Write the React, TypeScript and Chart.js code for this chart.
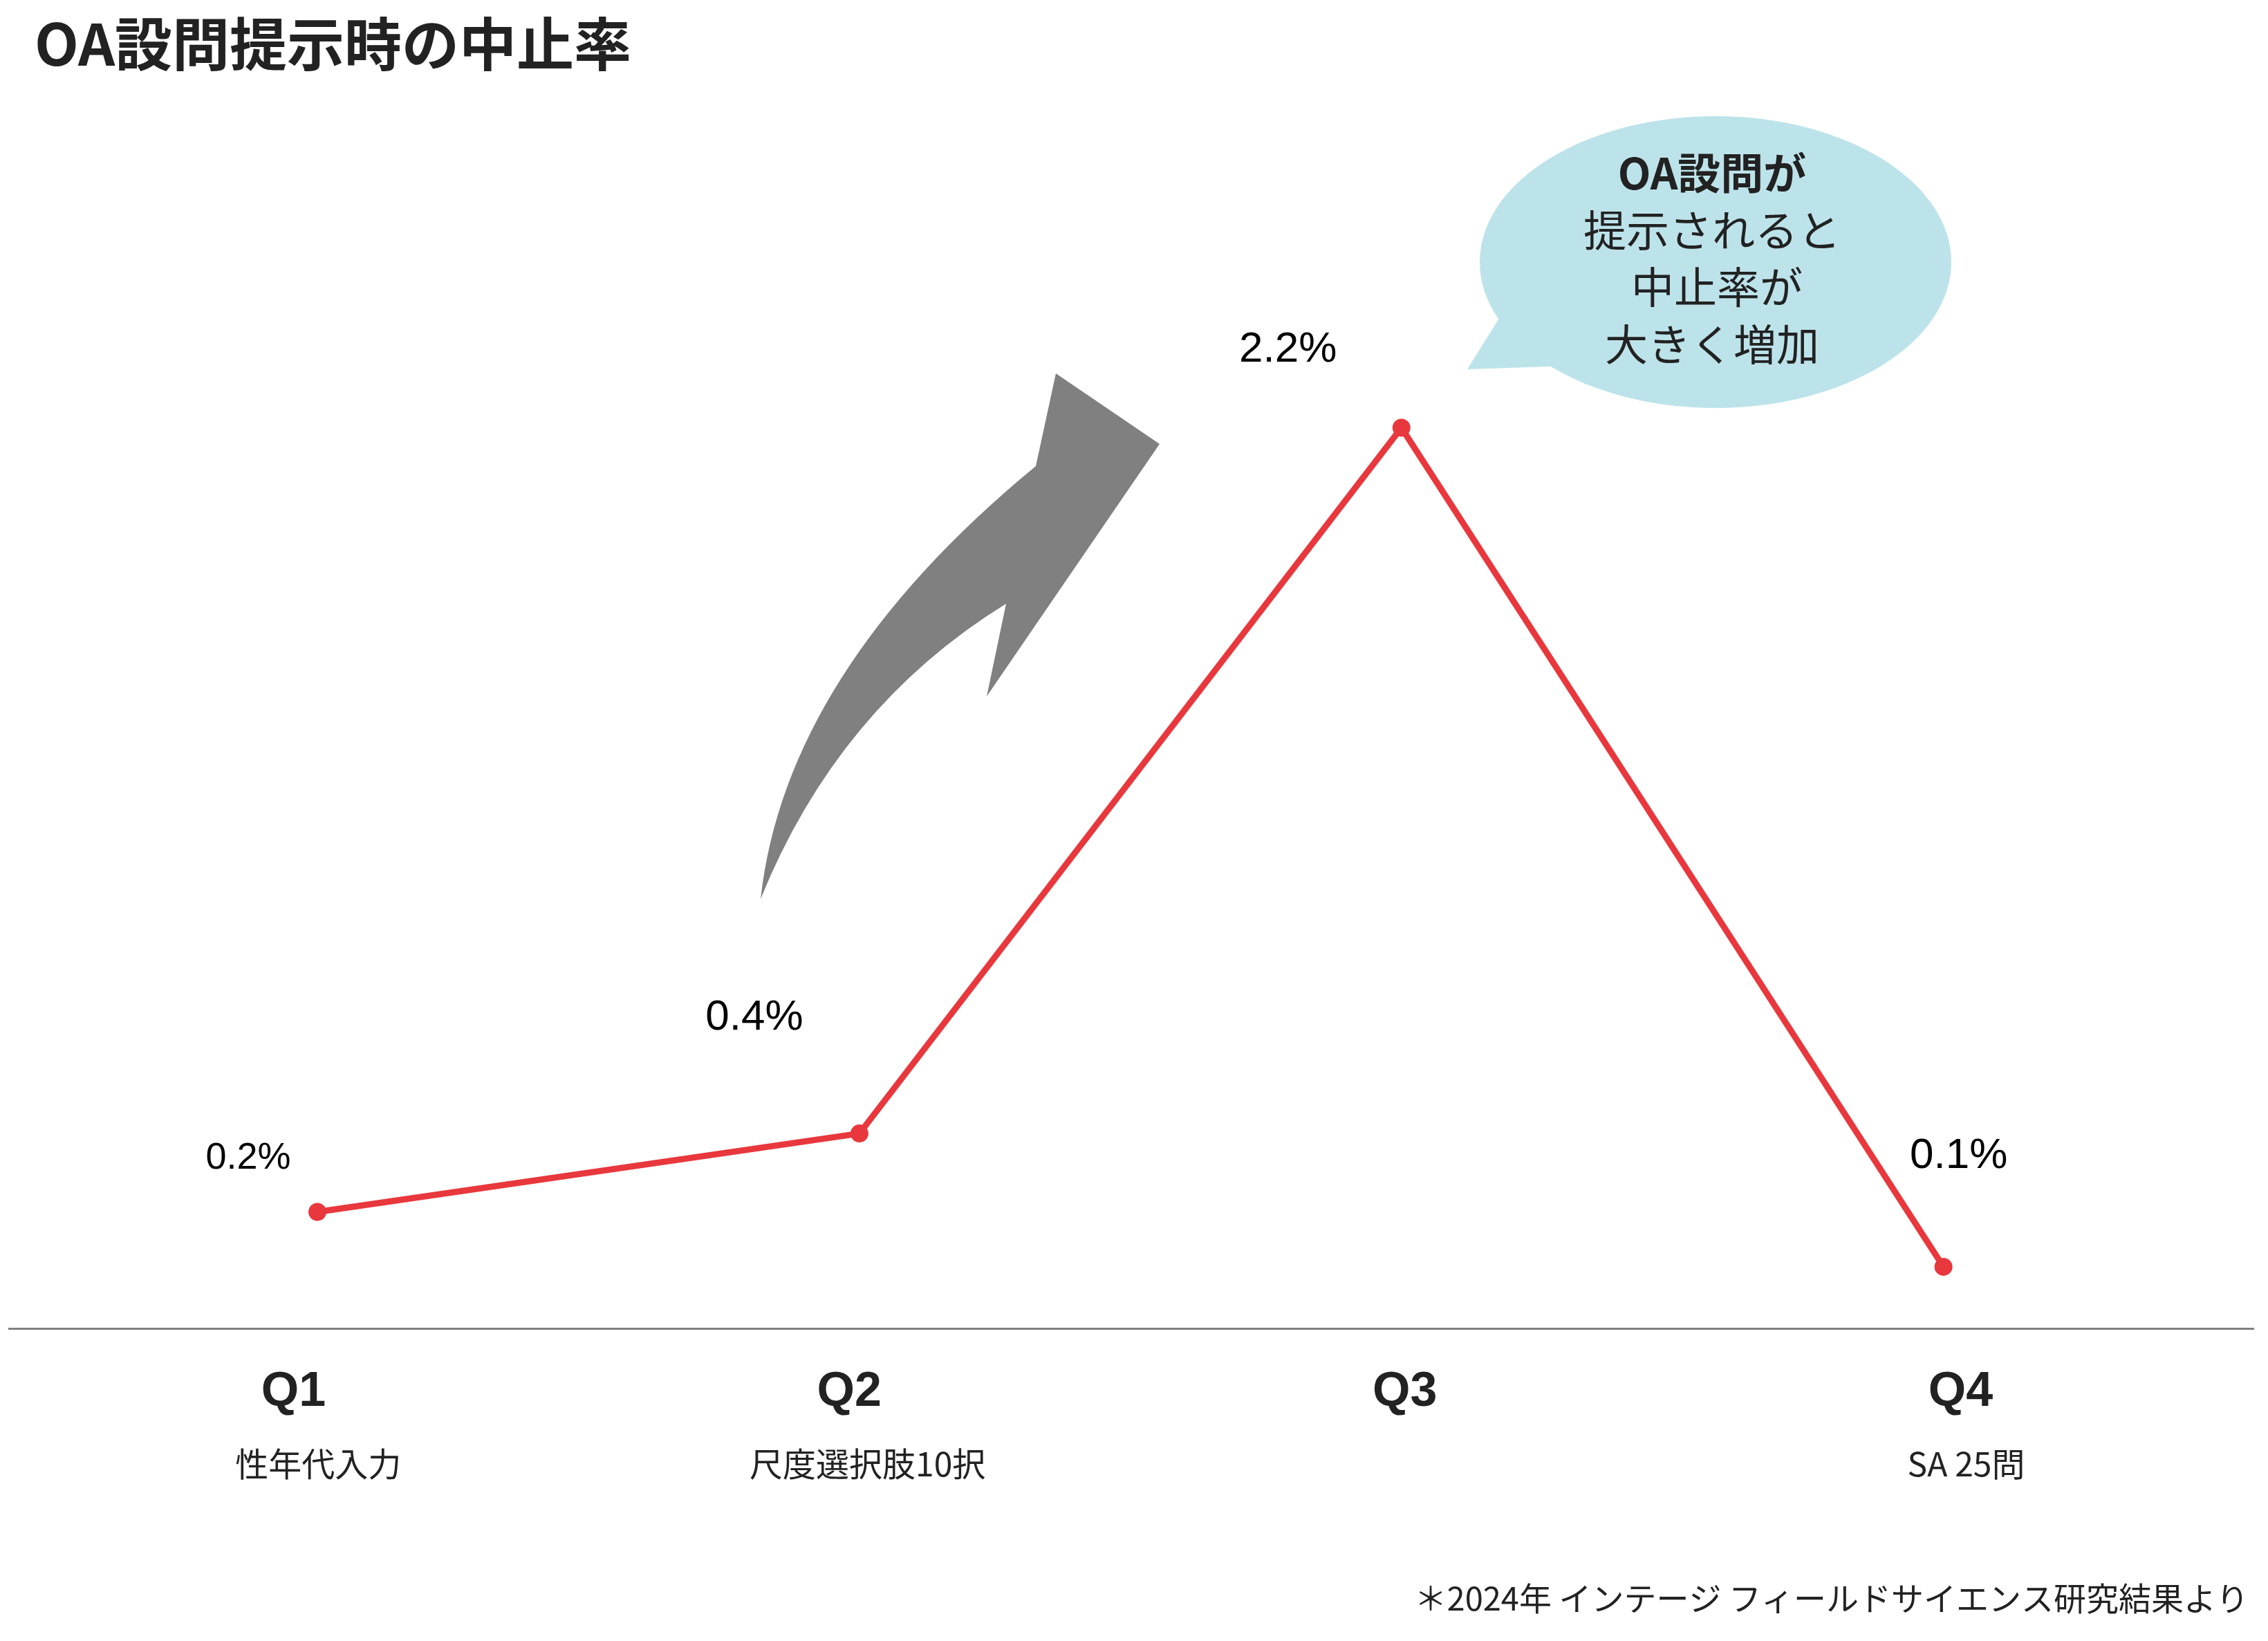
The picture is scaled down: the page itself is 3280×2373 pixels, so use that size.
import React, { useEffect, useRef } from 'react';
import { Chart, registerables } from 'chart.js';

Chart.register(...registerables);

const questions = ['Q1', 'Q2', 'Q3', 'Q4'];
const questionNotes = ['性年代入力', '尺度選択肢10択', '', 'SA 25問'];
const dropoutRates = [0.2, 0.4, 2.2, 0.06];
const calloutLines = ['OA設問が', '提示されると', ' 中止率が', '大きく増加'];
const titleText = 'OA設問提示時の中止率';
const sourceNote = '＊2024年 インテージ フィールドサイエンス研究結果より';

const W = 3280;
const H = 2373;
const JP = '"Noto Sans CJK JP", "Noto Sans", sans-serif';
const LATIN = '"Liberation Sans", Arial, sans-serif';
const INK = '#222222';
const RED = '#e8383d';

// where each value label sits relative to its point, and how big it is
const labelOffsets = [[-100, -63], [-152, -150], [-164, -95], [22, -143]];
const labelSizes = [54, 62, 62, 62];

const decorations = {
    id: 'decorations',
    beforeDatasetsDraw(chart: Chart) {
        const ctx = chart.ctx;
        ctx.save();

        // grey curved arrow
        ctx.fillStyle = '#808080';
        ctx.beginPath();
        ctx.moveTo(1100, 1300);
        ctx.quadraticCurveTo(1136, 972, 1498, 674);
        ctx.lineTo(1527, 540);
        ctx.lineTo(1677, 642);
        ctx.lineTo(1427, 1007);
        ctx.lineTo(1455, 873);
        ctx.quadraticCurveTo(1212, 1023, 1100, 1300);
        ctx.closePath();
        ctx.fill();

        // speech bubble
        ctx.fillStyle = '#bde3ea';
        ctx.beginPath();
        ctx.ellipse(2481, 379, 341, 211, 0, 0, Math.PI * 2);
        ctx.fill();
        ctx.beginPath();
        ctx.moveTo(2167, 462);
        ctx.lineTo(2122, 534);
        ctx.lineTo(2242, 530);
        ctx.lineTo(2300, 440);
        ctx.closePath();
        ctx.fill();

        ctx.restore();
    },
    afterDraw(chart: Chart) {
        const ctx = chart.ctx;
        ctx.save();
        ctx.textBaseline = 'alphabetic';

        // title
        ctx.fillStyle = INK;
        ctx.textAlign = 'left';
        ctx.font = `bold 83px ${JP}`;
        ctx.fillText(titleText, 50, 95);

        // bubble text
        ctx.textAlign = 'center';
        calloutLines.forEach((line, i) => {
            ctx.font = `${i === 0 ? 'bold ' : ''}62px ${JP}`;
            ctx.fillText(line, 2476, 274 + i * 82.5);
        });

        // value labels
        ctx.fillStyle = '#000000';
        const meta = chart.getDatasetMeta(0);
        meta.data.forEach((pt, i) => {
            ctx.font = `${labelSizes[i]}px ${LATIN}`;
            ctx.fillText(`${dropoutRates[i].toFixed(1)}%`, pt.x + labelOffsets[i][0], pt.y + labelOffsets[i][1]);
        });

        // source
        ctx.fillStyle = INK;
        ctx.textAlign = 'right';
        ctx.font = `47px ${JP}`;
        ctx.fillText(sourceNote, 3252, 2329);

        ctx.restore();
    },
};

const App: React.FC = () => {
    const canvasRef = useRef<HTMLCanvasElement>(null);

    useEffect(() => {
        document.body.style.margin = '0';
        if (!canvasRef.current) return;

        const chart = new Chart(canvasRef.current, {
            type: 'line',
            data: {
                datasets: [{
                    data: dropoutRates.map((v, i) => ({ x: i, y: v })),
                    xAxisID: 'x',
                    yAxisID: 'y',
                    borderColor: RED,
                    borderWidth: 9,
                    pointRadius: 13,
                    pointBackgroundColor: RED,
                    pointBorderWidth: 0,
                    tension: 0,
                }],
            },
            options: {
                responsive: false,
                devicePixelRatio: 1,
                animation: false,
                layout: { padding: { top: 200, left: 0, right: 21, bottom: 181.5 } },
                plugins: {
                    legend: { display: false },
                    tooltip: { enabled: false },
                },
                scales: {
                    x: { type: 'linear', display: false, min: -0.569, max: 3.572 },
                    xq: {
                        type: 'linear',
                        position: 'bottom',
                        min: -0.512,
                        max: 3.527,
                        afterBuildTicks: (s: any) => { s.ticks = questions.map((_, i) => ({ value: i })); },
                        afterFit: (s: any) => { s.height = 150; },
                        ticks: {
                            callback: (v: any) => questions[Math.round(v)],
                            font: { family: LATIN, size: 70, weight: 'bold' },
                            color: INK,
                            padding: 50,
                            autoSkip: false,
                            maxRotation: 0,
                        },
                        grid: { display: false, drawTicks: false },
                        border: { display: true, color: '#808080', width: 3 },
                    },
                    xs: {
                        type: 'linear',
                        position: 'bottom',
                        min: -0.563,
                        max: 3.523,
                        afterBuildTicks: (s: any) => { s.ticks = questionNotes.map((_, i) => ({ value: i })); },
                        afterFit: (s: any) => { s.height = 120; },
                        ticks: {
                            callback: (v: any) => questionNotes[Math.round(v)],
                            font: { family: JP, size: 48 },
                            color: INK,
                            padding: 16,
                            autoSkip: false,
                            maxRotation: 0,
                        },
                        grid: { display: false, drawTicks: false },
                        border: { display: false },
                    },
                    y: { display: false, min: -0.098, max: 2.938 },
                },
            },
            plugins: [decorations],
        });

        return () => {
            chart.destroy();
        };
    }, []);

    return <canvas ref={canvasRef} width={W} height={H} style={{ display: 'block', width: W, height: H }} />;
};

export default App;
